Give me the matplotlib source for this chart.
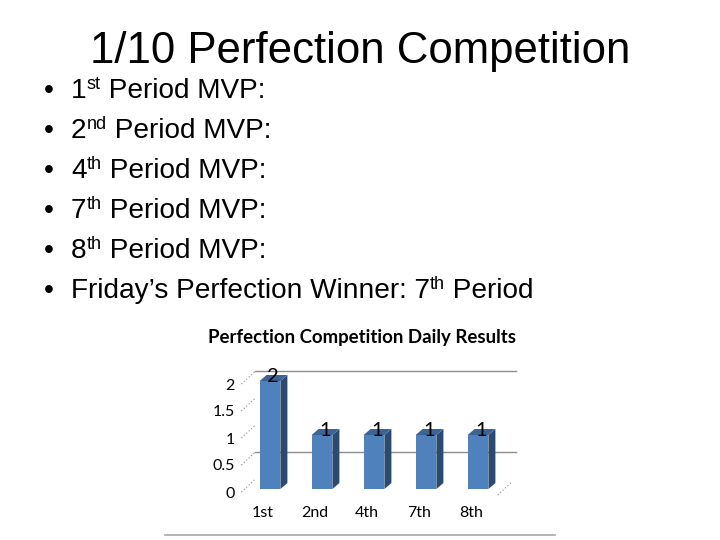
import matplotlib
matplotlib.use("Agg")
import matplotlib.pyplot as plt
from matplotlib.patches import Polygon
from matplotlib.lines import Line2D
from matplotlib.transforms import ScaledTranslation

# slide text
slide_title = "1/10 Perfection Competition"
bullet_lines = [
    [("1", False), ("st", True), (" Period MVP:", False)],
    [("2", False), ("nd", True), (" Period MVP:", False)],
    [("4", False), ("th", True), (" Period MVP:", False)],
    [("7", False), ("th", True), (" Period MVP:", False)],
    [("8", False), ("th", True), (" Period MVP:", False)],
    [("Friday\u2019s Perfection Winner: 7", False), ("th", True), (" Period", False)],
]

# chart data
chart_title = "Perfection Competition Daily Results"
periods = ["1st", "2nd", "4th", "7th", "8th"]
scores = [2, 1, 1, 1, 1]
y_ticks = [0, 0.5, 1, 1.5, 2]
y_tick_labels = ["0", "0.5", "1", "1.5", "2"]
grid_levels = [0.5, 2]

W, H = 720, 540
slide_font = "Liberation Sans"
chart_font = "Lato"
front_col = "#4f81bd"
side_col = "#2c4a6e"
top_col = "#3b6597"
grid_col = "#8c8c8c"

fig = plt.figure(figsize=(W / 100, H / 100), dpi=100)
fig.patch.set_facecolor("white")


def px(x, y):
    # pixel position (from top-left) -> figure fraction
    return x / W, 1 - y / H


fig.text(*px(360, 63), slide_title, family=slide_font, fontsize=31.5,
         ha="center", va="baseline")

renderer = fig.canvas.get_renderer()
base_size = 20.2
sup_size = 13
for i, runs in enumerate(bullet_lines):
    yb = 98 + 40 * i
    fig.text(*px(44, yb), "\u2022", family=slide_font, fontsize=base_size,
             va="baseline", ha="left")
    x = 71
    for s, sup in runs:
        size = sup_size if sup else base_size
        yy = yb - 9 if sup else yb
        t = fig.text(*px(x, yy), s, family=slide_font, fontsize=size,
                     va="baseline", ha="left")
        x += t.get_window_extent(renderer).width

# chart axes: bar centres every 52 px, 54 px per unit
x_left, x_right = -0.55, 4.5
y_top = 2.2
left_px, bottom_px = 270 + x_left * 52, 489
ax = fig.add_axes([left_px / W, 1 - bottom_px / H,
                   (x_right - x_left) * 52 / W, y_top * 54 / H])
ax.set_xlim(x_left, x_right)
ax.set_ylim(0, y_top)
ax.patch.set_alpha(0)
for sp in ax.spines.values():
    sp.set_visible(False)

fig.text(*px(362, 337), chart_title, family=chart_font, fontweight="bold",
         fontsize=13.4, ha="center", va="center")

# 3d offsets in data units
bw = 0.40
ddx, ddy = 7 / 52, 6 / 54
wall_dx, wall_front, wall_back = 14 / 52, -3 / 54, 10 / 54
grid_end = (516 - 270) / 52

for g in grid_levels:
    ax.plot([x_left + wall_dx, grid_end], [g + wall_back, g + wall_back],
            color=grid_col, lw=1, clip_on=False, zorder=1)
for g in y_ticks:
    ax.plot([x_left, x_left + wall_dx], [g + wall_front, g + wall_back],
            color=grid_col, lw=0.8, ls=(0, (1, 2)), clip_on=False, zorder=1)
ax.plot([4.38, 4.38 + wall_dx], [-6 / 54, -6 / 54 + wall_back - wall_front],
        color=grid_col, lw=0.8, ls=(0, (1, 2)), clip_on=False, zorder=1)

xs = list(range(len(periods)))
ax.bar(xs, scores, width=bw, color=front_col, zorder=3)
for x, v in zip(xs, scores):
    r = x + bw / 2
    l = x - bw / 2
    ax.add_patch(Polygon([(r, 0), (r + ddx, ddy), (r + ddx, v + ddy), (r, v)],
                         closed=True, color=side_col, zorder=3, lw=0))
    ax.add_patch(Polygon([(l, v), (r, v), (r + ddx, v + ddy), (l + ddx, v + ddy)],
                         closed=True, color=top_col, zorder=3, lw=0))
    ax.annotate(str(v), (x, v), xytext=(3, -1), textcoords="offset pixels",
                ha="center", va="baseline", family=chart_font, fontsize=14.5,
                zorder=4, annotation_clip=False)

ax.set_xticks(xs)
ax.set_xticklabels(periods, family=chart_font, fontsize=11.5)
ax.set_yticks(y_ticks)
ax.set_yticklabels(y_tick_labels, family=chart_font, fontsize=11.5)
ax.tick_params(axis="both", length=0)
ax.tick_params(axis="x", pad=12)
ax.tick_params(axis="y", pad=5)
dpi_tr = fig.dpi_scale_trans
for lab in ax.get_xticklabels():
    lab.set_transform(lab.get_transform() + ScaledTranslation(-7 / 100, 0, dpi_tr))
for lab in ax.get_yticklabels():
    lab.set_transform(lab.get_transform() + ScaledTranslation(0, -3 / 100, dpi_tr))

# bottom edge of the chart frame
fig.add_artist(Line2D([165 / W, 555 / W], [1 - 535 / H, 1 - 535 / H],
                      color="#a6a6a6", lw=1.2))

fig.savefig("out.png", dpi=100, facecolor="white")
